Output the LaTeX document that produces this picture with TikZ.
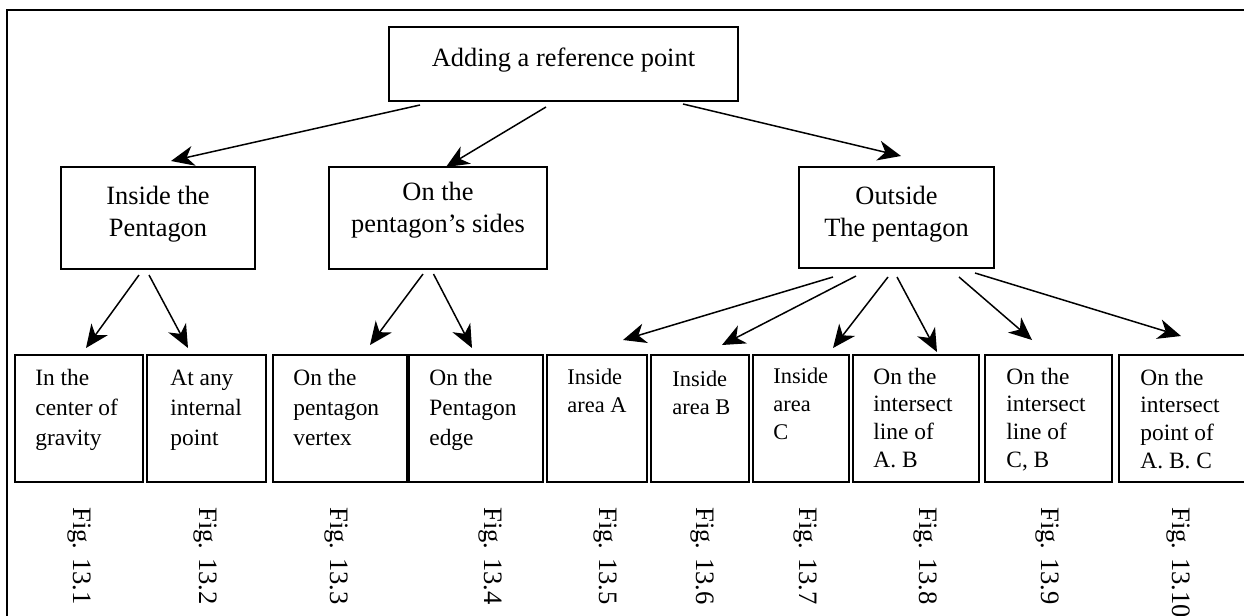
\documentclass[tikz,border=0pt]{standalone}
\usepackage{fontspec}
\setmainfont{Liberation Serif}
\usetikzlibrary{positioning,arrows.meta}

\tikzset{
  box/.style={draw, line width=0.85pt, inner sep=0pt, outer sep=0pt},
  arr/.style={line width=0.75pt, -{Stealth[length=11.5pt,width=10pt,inset=3.5pt]}},
  bigtext/.style={font=\fontsize{13.2}{16}\selectfont, align=center, inner sep=0pt, anchor=base},
  celltext/.style={font=\fontsize{11.7}{15}\selectfont, align=left, inner sep=0pt, anchor=base west},
  areatext/.style={celltext, font=\fontsize{11.2}{14}\selectfont},
  figlbl/.style={font=\fontsize{13.3}{15}\selectfont, rotate=-90, anchor=west, inner sep=0pt},
}

\begin{document}
\begin{tikzpicture}[x=0.5pt, y=-0.5pt]
    \useasboundingbox (0,0) rectangle (1244,616);
    \clip (0,0) rectangle (1244,616);

    % frame
    \draw[line width=1pt] (7,640) |- (1270,9.5);

    % top level
    \node[box, minimum width=174.5pt, minimum height=37pt] (root) at (563.5,64) {};
    \node[bigtext] (rootlbl) at (563.5,66) {Adding a reference point};

    % second level (labels sit on the baseline of their last line)
    \node[box, minimum width=97pt, minimum height=51pt] (inside) at (158,218) {};
    \node[box, minimum width=109pt, minimum height=51pt] (sides) at (438,218) {};
    \node[box, minimum width=97.5pt, minimum height=50.5pt] (outside) at (896.5,217.5) {};
    \node[bigtext] (insidelbl) at (158,236) {Inside the\\Pentagon};
    \node[bigtext] (sideslbl) at (438,232) {On the\\pentagon’s sides};
    \node[bigtext] (outsidelbl) at (896.5,236) {Outside\\The pentagon};

    % third level
    \node[box, minimum width=64pt, minimum height=63.5pt] (gravity) at (79,418.5) {};
    \node[box, minimum width=59.5pt, minimum height=63.5pt] (internal) at (206.5,418.5) {};
    \node[box, minimum width=67pt, minimum height=63.5pt] (vertex) at (340,418.5) {};
    \node[box, minimum width=67pt, minimum height=63.5pt] (edge) at (476,418.5) {};
    \node[box, minimum width=50pt, minimum height=63.5pt] (areaA) at (597,418.5) {};
    \node[box, minimum width=49pt, minimum height=63.5pt] (areaB) at (700,418.5) {};
    \node[box, minimum width=48pt, minimum height=63.5pt] (areaC) at (801,418.5) {};
    \node[box, minimum width=63pt, minimum height=63.5pt] (lineAB) at (916,418.5) {};
    \node[box, minimum width=63.5pt, minimum height=63.5pt] (lineCB) at (1048.5,418.5) {};
    \node[box, minimum width=71.5pt, minimum height=63.5pt] (pointABC) at (1190.5,418.5) {};

    \node[celltext] (gravitylbl) at (35,445) {In the\\center of\\gravity};
    \node[celltext] (internallbl) at (170,445) {At any\\internal\\point};
    \node[celltext] (vertexlbl) at (293,445) {On the\\pentagon\\vertex};
    \node[celltext] (edgelbl) at (429,445) {On the\\Pentagon\\edge};
    \node[areatext] (areaAlbl) at (567,412) {Inside\\area A};
    \node[areatext] (areaBlbl) at (672,414) {Inside\\area B};
    \node[areatext] (areaClbl) at (773,439) {Inside\\area\\C};
    \node[celltext, font=\fontsize{11.7}{13.8}\selectfont] (lineABlbl) at (873,467) {On the\\intersect\\line of\\A. B};
    \node[celltext, font=\fontsize{11.7}{13.8}\selectfont] (lineCBlbl) at (1006,467) {On the\\intersect\\line of\\C, B};
    \node[celltext, font=\fontsize{11.7}{13.8}\selectfont] (pointABClbl) at (1140,468) {On the\\intersect\\point of\\A. B. C};

    % arrows
    \draw[arr] ([shift={(-143.5,4)}]root.south) -- ([shift={(13,-6)}]inside.north);
    \draw[arr] ([shift={(-17.5,6)}]root.south) -- ([shift={(8,0)}]sides.north);
    \draw[arr] ([shift={(119.5,3)}]root.south) -- ([shift={(4.5,-11)}]outside.north);

    \draw[arr] ([shift={(-19,6)}]inside.south) -- ([shift={(7,-7)}]gravity.north);
    \draw[arr] ([shift={(-9,6)}]inside.south) -- ([shift={(-18.5,-7)}]internal.north);
    \draw[arr] ([shift={(-15,5)}]sides.south) -- ([shift={(30,-10)}]vertex.north);
    \draw[arr] ([shift={(-4.5,5)}]sides.south) -- ([shift={(-4,-7)}]edge.north);

    \draw[arr] ([shift={(-63.5,9)}]outside.south) -- ([shift={(26,-15)}]areaA.north);
    \draw[arr] ([shift={(-40.5,8)}]outside.south) -- ([shift={(22,-10)}]areaB.north);
    \draw[arr] ([shift={(-8.5,9)}]outside.south) -- ([shift={(32,-7)}]areaC.north);
    \draw[arr] ([shift={(0.5,9)}]outside.south) -- ([shift={(21,-3)}]lineAB.north);
    \draw[arr] ([shift={(62.5,9)}]outside.south) -- ([shift={(-16.5,-15)}]lineCB.north);
    \draw[arr] ([shift={(78.5,5)}]outside.south) -- ([shift={(-9.5,-19)}]pointABC.north);

    % figure numbers
    \foreach \x/\n in {79/1, 205/2, 336/3, 490/4, 605/5, 702/6, 805/7, 925/8, 1047/9, 1178/10}
        \node[figlbl] (fig\n) at (\x,507) {Fig. 13.\n};
\end{tikzpicture}
\end{document}
